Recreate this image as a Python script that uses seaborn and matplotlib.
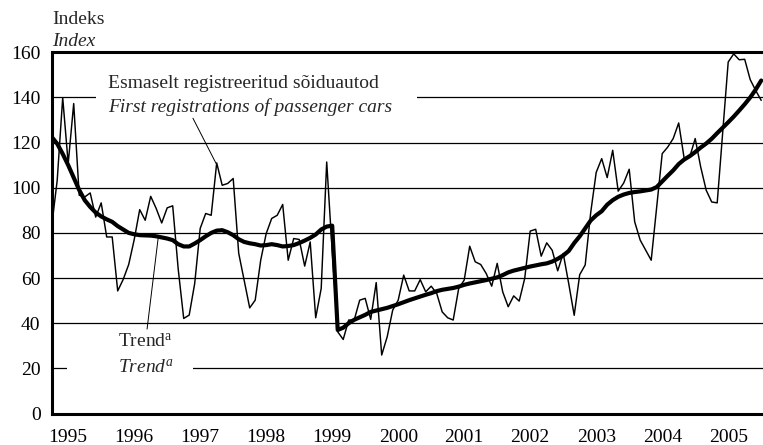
import matplotlib
matplotlib.use("Agg")
import matplotlib.pyplot as plt
from matplotlib.patches import Rectangle
import numpy as np
import pandas as pd
import seaborn as sns

# Monthly index of first registrations of passenger cars, Jan 1995 - Oct 2005
start_year = 1995
registrations = [
    83.0, 103.3, 139.9, 110.7, 137.3, 96.7, 95.9, 97.7, 87.0, 93.3, 78.2, 78.2,      # 1995
    54.3, 59.4, 66.0, 77.0, 90.3, 85.6, 96.2, 90.8, 84.4, 91.1, 92.0, 64.0,          # 1996
    42.1, 43.6, 57.6, 82.0, 88.6, 87.8, 111.0, 101.1, 101.9, 104.1, 71.0, 59.0,      # 1997
    46.8, 50.2, 67.9, 79.7, 86.4, 87.8, 92.6, 67.9, 77.5, 77.1, 65.3, 76.0,          # 1998
    42.4, 55.4, 111.4, 72.0, 36.2, 32.8, 41.4, 41.4, 50.2, 51.0, 41.7, 58.0,         # 1999
    25.9, 34.0, 45.8, 50.2, 61.3, 54.3, 54.3, 59.3, 53.9, 56.4, 53.2, 45.0,          # 2000
    42.4, 41.4, 55.4, 59.1, 74.1, 67.2, 66.0, 62.0, 56.4, 66.5, 53.9, 47.3,          # 2001
    52.1, 49.8, 59.8, 80.8, 81.6, 69.7, 75.6, 72.3, 63.2, 70.9, 57.6, 43.5,          # 2002
    61.5, 65.8, 89.0, 106.8, 112.9, 104.5, 116.6, 98.5, 102.1, 108.2, 84.9, 76.8,    # 2003
    72.3, 67.9, 91.5, 115.1, 118.0, 121.8, 128.7, 112.9, 113.6, 121.8, 109.2, 98.9,  # 2004
    93.7, 93.3, 124.7, 155.7, 159.3, 156.7, 156.9, 147.9, 143.1, 138.7,              # 2005
]
trend = [
    122.5, 119.5, 115.0, 110.0, 104.5, 99.0, 94.5, 91.5, 89.0, 87.3, 86.0, 84.9,     # 1995
    83.0, 81.5, 80.0, 79.4, 79.0, 78.9, 78.8, 78.5, 78.0, 77.5, 76.8, 75.0,          # 1996
    74.0, 74.0, 75.3, 76.8, 78.5, 80.0, 81.0, 81.2, 80.3, 79.0, 77.2, 76.0,          # 1997
    75.4, 75.0, 74.4, 74.6, 75.0, 74.6, 74.0, 74.2, 74.6, 75.5, 76.6, 77.8,          # 1998
    79.3, 81.5, 82.8, 83.2, 37.0, 38.0, 40.0, 41.5, 42.6, 43.7, 45.0, 45.6,          # 1999
    46.2, 46.8, 47.6, 48.4, 49.3, 50.2, 51.0, 51.8, 52.6, 53.3, 54.2, 54.8,          # 2000
    55.2, 55.6, 56.2, 57.0, 57.6, 58.1, 58.6, 59.1, 59.7, 60.3, 61.3, 62.5,          # 2001
    63.3, 63.9, 64.5, 65.1, 65.6, 66.1, 66.5, 67.3, 68.5, 70.0, 72.0, 75.5,          # 2002
    78.5, 82.0, 85.5, 87.8, 89.6, 92.5, 94.5, 96.0, 97.0, 97.7, 98.1, 98.4,          # 2003
    98.8, 99.2, 100.3, 102.8, 105.3, 107.7, 110.5, 112.5, 114.0, 115.8, 117.8, 119.6,  # 2004
    121.7, 124.2, 126.6, 129.0, 131.5, 134.2, 137.0, 140.0, 143.5, 147.5,            # 2005
]
year_labels = list(range(1995, 2006))
y_ticks = list(range(0, 161, 20))

t = start_year + np.arange(len(registrations)) / 12
df = pd.DataFrame({"t": t, "registrations": registrations, "trend": trend})

sns.set_theme(style="white")
plt.rcParams["font.family"] = ["Liberation Serif", "DejaVu Serif"]
plt.rcParams["mathtext.fontset"] = "custom"
plt.rcParams["mathtext.rm"] = "Liberation Serif"
plt.rcParams["mathtext.it"] = "Liberation Serif:italic"

W, H = 763, 445
fig = plt.figure(figsize=(W / 100, H / 100), dpi=100)
ax_left, ax_bottom, ax_top = 51.7, 413.5, 52.3
ax = fig.add_axes([ax_left / W, 1 - ax_bottom / H, 1 - ax_left / W, (ax_bottom - ax_top) / H])
ax.set_xlim(start_year, start_year + (W - ax_left) / 66.0)
ax.set_ylim(0, 160)

# horizontal grid
ax.set_axisbelow(True)
ax.yaxis.grid(True, color="black", lw=0.9)

sns.lineplot(data=df, x="t", y="registrations", ax=ax, color="black", lw=1.05, zorder=3)
sns.lineplot(data=df, x="t", y="trend", ax=ax, color="black", lw=3.0, zorder=4)

# white gaps in the grid behind the labels
for x0, x1, yc in [(1995.67, 2000.53, 140), (1995.23, 1997.14, 20)]:
    ax.add_patch(Rectangle((x0, yc - 3), x1 - x0, 6, facecolor="white",
                           edgecolor="none", zorder=1.5))

# spines
for side in ["left", "bottom", "top"]:
    ax.spines[side].set_color("black")
    ax.spines[side].set_linewidth(2.2)
ax.spines["right"].set_visible(False)

# x axis: year ticks, labels set between them
ax.set_xticks(year_labels)
ax.set_xticklabels([])
ax.set_xticks([y + 0.25 for y in year_labels], minor=True)
ax.set_xticklabels([str(y) for y in year_labels], minor=True)
ax.tick_params(axis="x", which="major", direction="in", length=5, width=1, color="black")
ax.tick_params(axis="x", which="minor", length=0, pad=11, labelsize=14, labelcolor="black")

ax.set_yticks(y_ticks)
ax.set_yticklabels([str(v) for v in y_ticks])
ax.tick_params(axis="y", length=0, pad=8, labelsize=14, labelcolor="black")

ax.set_xlabel("")
ax.set_ylabel("")

# axis title
fig.text(52 / W, 1 - 19 / H, "Indeks", fontsize=14, ha="left", va="center")
fig.text(52 / W, 1 - 42 / H, "Index", fontsize=14, style="italic", ha="left", va="center")

# series labels
ax.text(1995.853, 146.2, "Esmaselt registreeritud sõiduautod", fontsize=14,
        ha="left", va="center", zorder=6)
ax.text(1995.853, 135.6, "First registrations of passenger cars", fontsize=14,
        style="italic", ha="left", va="center", zorder=6)
ax.plot([1997.14, 1997.49], [130.8, 110.8], color="black", lw=0.7, zorder=5)

ax.text(1996.0, 31.8, r"Trend$^{\mathrm{a}}$", fontsize=14, ha="left", va="center", zorder=6)
ax.text(1996.0, 20.1, r"$\mathit{Trend}^{\mathit{a}}$", fontsize=14, ha="left",
        va="center", zorder=6)
ax.plot([1996.445, 1996.615], [37.4, 78.2], color="black", lw=0.7, zorder=5)

fig.savefig("out.png", dpi=100)
